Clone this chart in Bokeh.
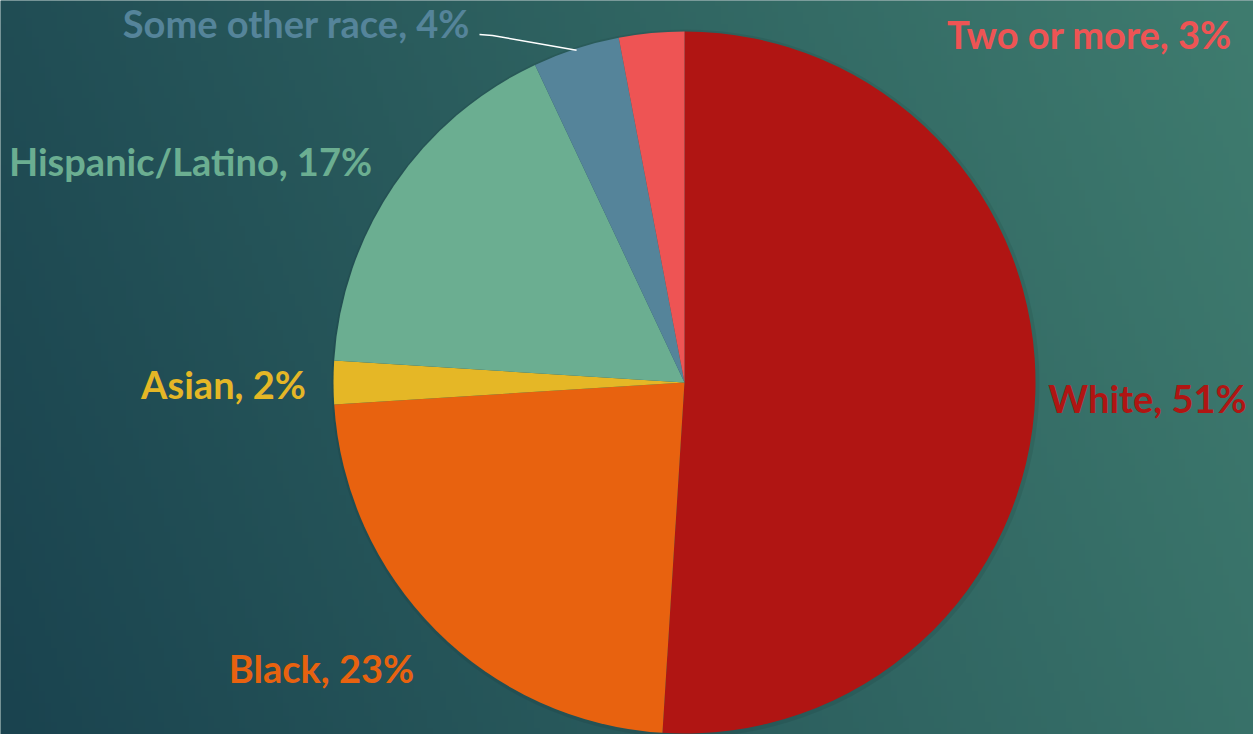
import numpy as np
from bokeh.plotting import figure
from bokeh.models import ColumnDataSource
from bokeh.core.properties import value
from bokeh.embed import file_html
from bokeh.resources import INLINE

# ---- data ----
categories = ["White", "Black", "Asian", "Hispanic/Latino", "Some other race", "Two or more"]
shares = [51, 23, 2, 17, 4, 3]
colors = ["#B01513", "#E8620F", "#E5B726", "#6BAE91", "#55849A", "#EE5454"]
labels = [f"{c}, {s}%" for c, s in zip(categories, shares)]

# ---- layout (pixels inside the figure, y measured from bottom) ----
W, H = 1253, 734
cx, cy, R = 684, 734 - 382, 351
label_x = [1147, 321, 223, 190, 296, 1089]
label_y = [734 - 397, 734 - 667, 734 - 383, 734 - 160, 734 - 22, 734 - 33]

p = figure(width=W, height=H, x_range=(0, W), y_range=(0, H),
           x_axis_type=None, y_axis_type=None, toolbar_location=None,
           output_backend="svg", min_border=0)
p.outline_line_color = None
p.grid.visible = False
p.background_fill_color = "#2b5d5f"
p.border_fill_color = "#2b5d5f"

# background gradient
gh, gw = 120, 200
yy, xx = np.mgrid[0:gh, 0:gw]
t = 0.82 * xx / (gw - 1) + 0.18 * yy / (gh - 1)
c0 = np.array([26, 67, 79])
c1 = np.array([63, 124, 111])
img = np.empty((gh, gw), dtype=np.uint32)
view = img.view(dtype=np.uint8).reshape((gh, gw, 4))
for k in range(3):
    view[:, :, k] = (c0[k] + (c1[k] - c0[k]) * t).astype(np.uint8)
view[:, :, 3] = 255
p.image_rgba(image=[img], x=0, y=0, dw=W, dh=H)

# pie
total = float(sum(shares))
cum = np.cumsum([0] + shares) / total
start = [np.pi / 2 - 2 * np.pi * cum[i] for i in range(len(shares))]
end = [np.pi / 2 - 2 * np.pi * cum[i + 1] for i in range(len(shares))]
src = ColumnDataSource(dict(start=start, end=end, color=colors, cat=categories))

# soft shadow
p.circle(x=cx + 1, y=cy - 1, radius=R + 3, fill_color="black", fill_alpha=0.07, line_color=None)
p.wedge(x=cx, y=cy, radius=R, start_angle="start", end_angle="end", direction="clock",
        fill_color="color", line_color=None, source=src)

# leader line for "Some other race"
mid_other = (start[4] + end[4]) / 2
p.line(x=[479, 492, cx + R * np.cos(mid_other) * 0.995],
       y=[734 - 34, 734 - 35, cy + R * np.sin(mid_other) * 0.995],
       line_color="white", line_width=1.5)

lsrc = ColumnDataSource(dict(x=label_x, y=label_y, text=labels, color=colors))
p.text(x="x", y="y", text="text", text_color="color", source=lsrc,
       text_font=value("Lato"), text_font_style="bold", text_font_size="38px",
       text_align="center", text_baseline="middle")

html = file_html(p, INLINE)
open("out.html", "w").write(html)
